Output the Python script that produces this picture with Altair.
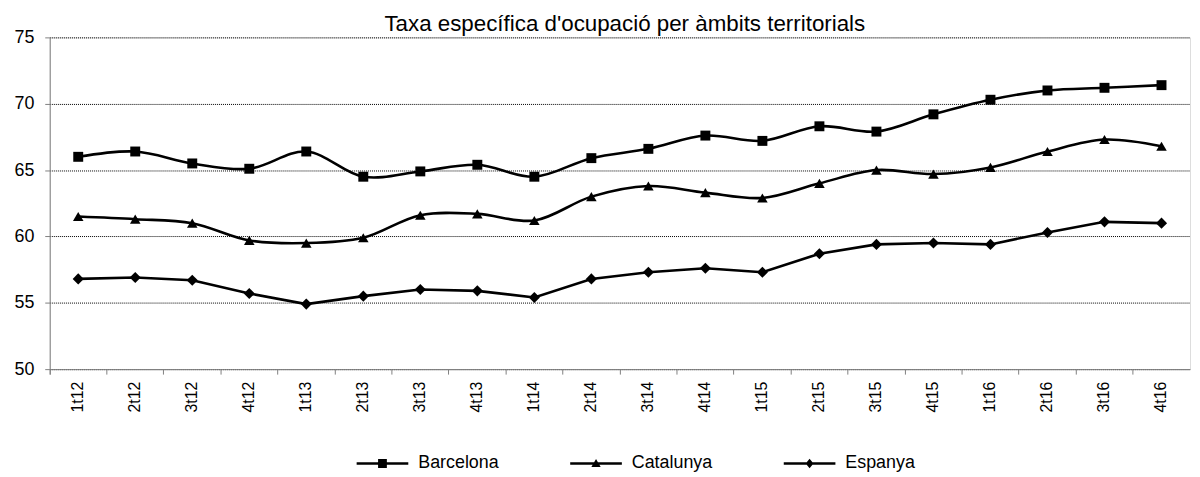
import altair as alt
import pandas as pd

categories = ["1t12", "2t12", "3t12", "4t12", "1t13", "2t13", "3t13", "4t13",
              "1t14", "2t14", "3t14", "4t14", "1t15", "2t15", "3t15", "4t15",
              "1t16", "2t16", "3t16", "4t16"]
barcelona = [66.0, 66.4, 65.5, 65.1, 66.4, 64.5, 64.9, 65.4, 64.5, 65.9,
             66.6, 67.6, 67.2, 68.3, 67.9, 69.2, 70.3, 71.0, 71.2, 71.4]
catalunya = [61.5, 61.3, 61.0, 59.7, 59.5, 59.9, 61.6, 61.7, 61.2, 63.0,
             63.8, 63.3, 62.9, 64.0, 65.0, 64.7, 65.2, 66.4, 67.3, 66.8]
espanya = [56.8, 56.9, 56.7, 55.7, 54.9, 55.5, 56.0, 55.9, 55.4, 56.8,
           57.3, 57.6, 57.3, 58.7, 59.4, 59.5, 59.4, 60.3, 61.1, 61.0]
series_names = ["Barcelona", "Catalunya", "Espanya"]
y_ticks = [50, 55, 60, 65, 70, 75]
title_text = "Taxa específica d'ocupació per àmbits territorials"

rows = []
for name, vals in zip(series_names, [barcelona, catalunya, espanya]):
    for c, v in zip(categories, vals):
        rows.append({"periode": c, "valor": v, "serie": name})
df = pd.DataFrame(rows)

FONT = "Liberation Sans"

x_enc = alt.X("periode:N", sort=categories,
              scale=alt.Scale(type="band", paddingInner=0, paddingOuter=0),
              axis=alt.Axis(title=None, labelAngle=270, labelFontSize=16, labelFont=FONT,
                            labelColor="black", domainColor="#808080", tickColor="#808080",
                            tickSize=5, bandPosition=0, tickExtra=True, grid=False,
                            labelPadding=7))
y_enc = alt.Y("valor:Q", scale=alt.Scale(domain=[50, 75], nice=False, zero=False),
              axis=alt.Axis(title=None, values=y_ticks, labelFontSize=18, labelFont=FONT,
                            labelColor="black", domainColor="#808080", tickColor="#808080",
                            tickSize=5, labelPadding=11, grid=True, gridColor="black",
                            gridDash=[1, 1], gridWidth=1))

base = alt.Chart(df)

smooth = base.transform_filter(
    alt.FieldOneOfPredicate(field="serie", oneOf=["Barcelona", "Catalunya"])
).mark_line(interpolate="catmull-rom", color="black", strokeWidth=2.6).encode(
    x=x_enc, y=y_enc, detail="serie:N")

straight = base.transform_filter(
    alt.FieldEqualPredicate(field="serie", equal="Espanya")
).mark_line(color="black", strokeWidth=2.6).encode(x=x_enc, y=y_enc)

points = base.mark_point(filled=True, color="black", opacity=1).encode(
    x=x_enc, y=y_enc,
    shape=alt.Shape("serie:N", scale=alt.Scale(domain=series_names,
                                               range=["square", "triangle-up", "diamond"]),
                    legend=None),
    size=alt.Size("serie:N", scale=alt.Scale(domain=series_names, range=[100, 125, 115]),
                  legend=None))

legend_paths = [
    "M-1,-0.05H1V0.05H-1Z M-0.17,-0.17H0.17V0.17H-0.17Z",
    "M-1,-0.05H1V0.05H-1Z M0,-0.17L0.18,0.14L-0.18,0.14Z",
    "M-1,-0.05H1V0.05H-1Z M0,-0.18L0.15,0L0,0.18L-0.15,0Z",
]
legend_layer = base.mark_point(filled=True, fill="black", opacity=0).encode(
    x=x_enc, y=y_enc,
    shape=alt.Shape("serie:N", scale=alt.Scale(domain=series_names, range=legend_paths),
                    legend=alt.Legend(title=None, orient="none", direction="horizontal",
                                      legendX=309, legendY=403, symbolSize=2704,
                                      symbolOpacity=1, symbolStrokeWidth=0,
                                      symbolFillColor="black",
                                      labelFontSize=18, labelFont=FONT, labelColor="black",
                                      labelOffset=10, columnPadding=71, gridAlign="all",
                                      padding=0)))

chart = alt.layer(smooth, straight, points, legend_layer).resolve_scale(
    shape="independent", size="independent"
).properties(
    width=1148, height=334,
    title=alt.TitleParams(title_text, fontSize=22.5, fontWeight="normal", font=FONT,
                          color="black", anchor="middle", dx=5, offset=2, dy=9),
    autosize=alt.AutoSizeParams(type="none"),
    padding={"left": 42, "top": 28, "right": 2, "bottom": 105},
).configure_view(strokeWidth=0).configure(font=FONT)

chart.save("out.html", embed_options={"renderer": "svg", "actions": False})
